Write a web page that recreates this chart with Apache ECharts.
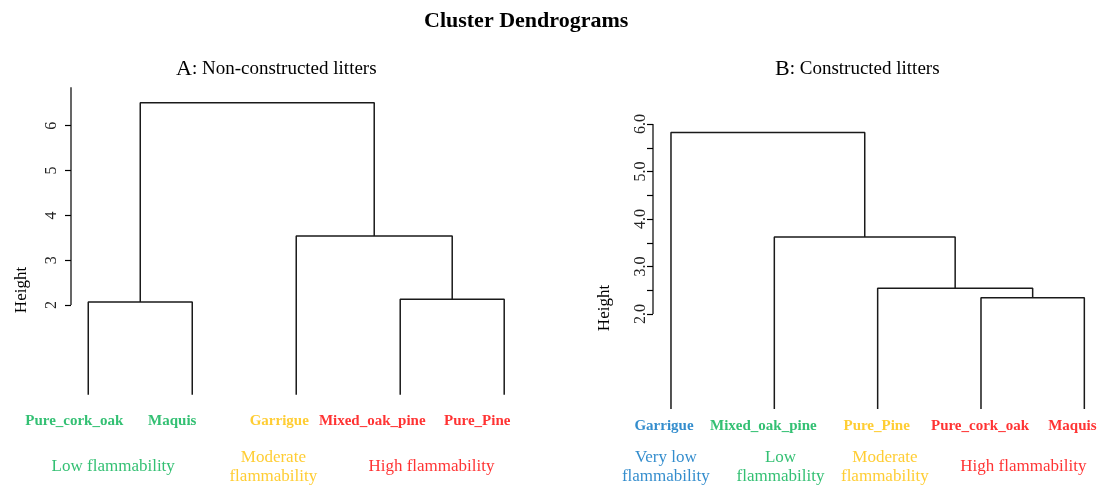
<!DOCTYPE html>
<html>
<head>
<meta charset="utf-8">
<script src="https://cdn.jsdelivr.net/npm/echarts@6/dist/echarts.min.js"></script>
<style>
html,body{margin:0;padding:0;background:#fff;}
#chart{width:1115px;height:486px;}
</style>
</head>
<body>
<div id="chart"></div>
<script>
// ---------- Data ----------
const leavesA = ['Pure_cork_oak', 'Maquis', 'Garrigue', 'Mixed_oak_pine', 'Pure_Pine'];
const leafColorsA = ['#00B050', '#00B050', '#FFC000', '#FF0000', '#FF0000'];
const mergeA = [[-1, -2], [-4, -5], [-3, 2], [1, 3]];
const heightA = [2.07, 2.13, 3.54, 6.51];
const groupsA = ['Low flammability', 'Moderate\nflammability', 'High flammability'];
const groupColorsA = ['#00B050', '#FFC000', '#FF0000'];
const tickLabelsA = [2, 3, 4, 5, 6];

const leavesB = ['Garrigue', 'Mixed_oak_pine', 'Pure_Pine', 'Pure_cork_oak', 'Maquis'];
const leafColorsB = ['#0070C0', '#00B050', '#FFC000', '#FF0000', '#FF0000'];
const mergeB = [[-4, -5], [-3, 1], [-2, 2], [-1, 3]];
const heightB = [2.34, 2.54, 3.62, 5.82];
const groupsB = ['Very low\nflammability', 'Low\nflammability', 'Moderate\nflammability', 'High flammability'];
const groupColorsB = ['#0070C0', '#00B050', '#FFC000', '#FF0000'];
const tickLabelsB = [2, 3, 4, 5, 6];
const tickMarksB = [2, 2.5, 3, 3.5, 4, 4.5, 5, 5.5, 6];

// ---------- Layout (positions/styles) ----------
const FONT = 'Liberation Serif';
const layout = {
  A: { left: 71, top: 87.3, width: 454, height: 307.4, xmin: 0.834, xmax: 5.2, ymax: 6.857, axisTop: 6.857,
       leafDx: [-14, -20, -17, -28, -27], leafDy: 26, labelMargin: 11,
       groupX: [1.24, 2.78, 4.30], groupDy: [72, 72, 72] },
  B: { left: 653, top: 114.5, width: 452, height: 294.5, xmin: 0.826, xmax: 5.2, ymax: 6.2, axisTop: 6.0,
       leafDx: [-7, -11, -1, -1, -12], leafDy: 17, labelMargin: 4,
       groupX: [0.95, 2.06, 3.07, 4.41], groupDy: [58, 58, 58, 58] }
};

function dendroSegments(merge, heights) {
  const nodeX = [], nodeH = [], segs = [];
  const pos = (r) => r < 0 ? [-r, 0] : [nodeX[r - 1], nodeH[r - 1]];
  merge.forEach((m, i) => {
    const a = pos(m[0]), b = pos(m[1]), h = heights[i];
    segs.push([[a[0], a[1]], [a[0], h], [b[0], h], [b[0], b[1]]]);
    nodeX[i] = (a[0] + b[0]) / 2;
    nodeH[i] = h;
  });
  return segs;
}

const series = [];
function addPanel(idx, L, merge, heights, leaves, leafColors, groups, groupColors) {
  dendroSegments(merge, heights).forEach(seg => {
    series.push({
      type: 'line', xAxisIndex: idx, yAxisIndex: idx, data: seg, symbol: 'none',
      lineStyle: { color: '#1a1a1a', width: 1.5 }, silent: true, animation: false, clip: false
    });
  });
  // axis line (from 2 to top)
  series.push({
    type: 'line', xAxisIndex: idx, yAxisIndex: idx, data: [[L.xmin, 2], [L.xmin, L.axisTop]], symbol: 'none',
    lineStyle: { color: '#000', width: 1.2 }, silent: true, animation: false, clip: false
  });
  // leaf labels
  series.push({
    type: 'scatter', xAxisIndex: idx, yAxisIndex: idx, symbolSize: 0, clip: false, silent: true, animation: false,
    data: leaves.map((n, i) => ({
      value: [i + 1, 0],
      label: { show: true, position: 'inside', formatter: n, offset: [L.leafDx[i], L.leafDy],
        color: leafColors[i], fontFamily: FONT, fontWeight: 'bold', fontSize: 15 }
    }))
  });
  // group labels
  series.push({
    type: 'scatter', xAxisIndex: idx, yAxisIndex: idx, symbolSize: 0, clip: false, silent: true, animation: false,
    data: groups.map((g, i) => ({
      value: [L.groupX[i], 0],
      label: { show: true, position: 'inside', formatter: g, offset: [0, L.groupDy[i]],
        color: groupColors[i], fontFamily: FONT, fontSize: 17, lineHeight: 19, align: 'center' }
    }))
  });
}
addPanel(0, layout.A, mergeA, heightA, leavesA, leafColorsA, groupsA, groupColorsA);
addPanel(1, layout.B, mergeB, heightB, leavesB, leafColorsB, groupsB, groupColorsB);

function yAxisFor(idx, L, labels, ticks, fmt) {
  return {
    type: 'value', gridIndex: idx, min: 0, max: L.ymax, splitLine: { show: false },
    axisLine: { show: false },
    axisTick: { show: true, length: 6, customValues: ticks, lineStyle: { color: '#000', width: 1.2 } },
    axisLabel: { show: true, customValues: labels, rotate: 90, margin: L.labelMargin, formatter: fmt,
      color: '#222', fontFamily: FONT, fontSize: 16 }
  };
}

const subRich = {
  a: { fontFamily: FONT, fontSize: 22, fontWeight: 'normal', color: '#000' },
  b: { fontFamily: FONT, fontSize: 19, fontWeight: 'normal', color: '#000' }
};

const chart = echarts.init(document.getElementById('chart'), null, { renderer: 'canvas' });
chart.setOption({
  backgroundColor: '#fff',
  animation: false,
  title: [
    { text: 'Cluster Dendrograms', left: 424, top: 10, padding: 0,
      textStyle: { fontFamily: FONT, fontWeight: 'bold', fontSize: 22, color: '#000' } },
    { text: '{a|A}{b|: Non-constructed litters}', left: 176, top: 58, padding: 0,
      textStyle: { fontWeight: 'normal', rich: subRich } },
    { text: '{a|B}{b|: Constructed litters}', left: 775, top: 58, padding: 0,
      textStyle: { fontWeight: 'normal', rich: subRich } }
  ],
  grid: [
    { left: layout.A.left, top: layout.A.top, width: layout.A.width, height: layout.A.height },
    { left: layout.B.left, top: layout.B.top, width: layout.B.width, height: layout.B.height }
  ],
  xAxis: [
    { type: 'value', gridIndex: 0, min: layout.A.xmin, max: layout.A.xmax, show: false },
    { type: 'value', gridIndex: 1, min: layout.B.xmin, max: layout.B.xmax, show: false }
  ],
  yAxis: [
    yAxisFor(0, layout.A, tickLabelsA, tickLabelsA, v => String(v)),
    yAxisFor(1, layout.B, tickLabelsB, tickMarksB, v => v.toFixed(1))
  ],
  graphic: [
    { type: 'text', x: 22, y: 290, rotation: Math.PI / 2,
      style: { text: 'Height', fontFamily: FONT, fontSize: 17, fill: '#000', align: 'center', verticalAlign: 'middle' } },
    { type: 'text', x: 605, y: 308, rotation: Math.PI / 2,
      style: { text: 'Height', fontFamily: FONT, fontSize: 17, fill: '#000', align: 'center', verticalAlign: 'middle' } }
  ],
  series: series
});
</script>
</body>
</html>
